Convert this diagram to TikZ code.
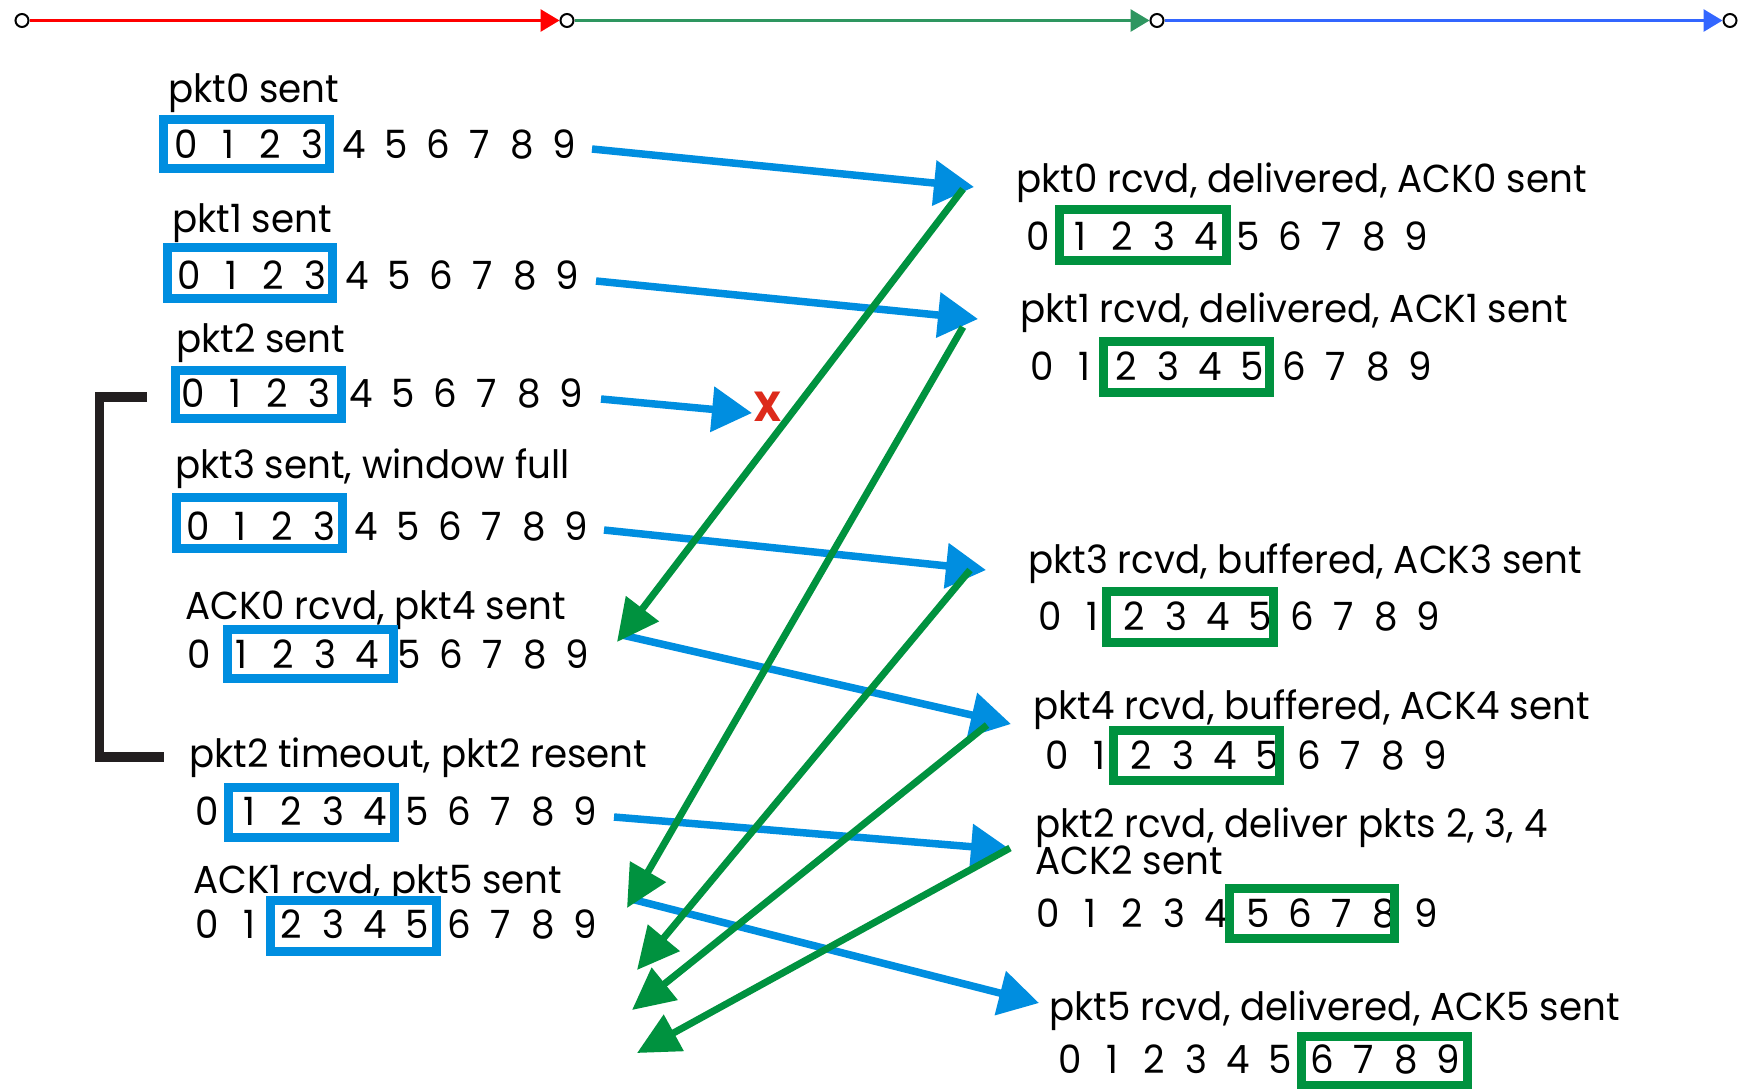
\documentclass[tikz,border=0pt]{standalone}
\usepackage{fontspec}
\setmainfont[FakeStretch=0.955]{Poppins}
\usetikzlibrary{arrows.meta}
\definecolor{cblue}{RGB}{0,142,224}
\definecolor{cgreen}{RGB}{0,146,63}
\definecolor{tred}{RGB}{255,0,0}
\definecolor{tgreen}{RGB}{46,150,96}
\definecolor{tblue}{RGB}{51,102,255}
\definecolor{cxred}{RGB}{221,42,27}
\definecolor{cblack}{RGB}{35,31,32}
\newcommand{\digitrow}[3]{%
  \foreach \i in {0,...,9} {\node[dig] (#1-\i) at ({#2+42*\i},#3) {\i};}}
\newcommand{\winbox}[5]{% style, x1,y1,x2,y2 (outer)
  \draw[#1] ({#2+4.5},{#3+4.5}) rectangle ({#4-4.5},{#5-4.5});}
\tikzset{
  lbl/.style={anchor=base west, inner sep=0pt},
  dig/.style={anchor=base, inner sep=0pt},
  bbox/.style={draw=cblue, line width=9pt, line join=miter},
  gbox/.style={draw=cgreen, line width=9pt, line join=miter},
  barrow/.style={draw=cblue, line width=7.5pt, -{Triangle[length=40pt,width=44pt]}},
  garrow/.style={draw=cgreen, line width=7pt, -{Triangle[length=42pt,width=40pt]}},
  tnode/.style={circle, draw=black, fill=white, line width=2pt, minimum size=13pt, inner sep=0pt},
  tline/.style={line width=3pt, -{Triangle[length=19pt,width=22pt]}},
}
\begin{document}
\begin{tikzpicture}[x=1pt,y=-1pt, font=\fontsize{39}{44}\selectfont]
\useasboundingbox (0,0) rectangle (1742,1088);
\fill[white] (0,0) rectangle (1742,1088);

% top timeline
\node[tnode] (t0) at (22,20.5) {};
\node[tnode] (t1) at (567,20.5) {};
\node[tnode] (t2) at (1157,20.5) {};
\node[tnode] (t3) at (1730,20.5) {};
\draw[tline, draw=tred, fill=tred] (t0) -- (t1);
\draw[tline, draw=tgreen, fill=tgreen] (t1) -- (t2);
\draw[tline, draw=tblue, fill=tblue] (t2) -- (t3);

% bracket
\draw[draw=cblack, line width=9.5pt, line join=miter] (147,397) -- (99.5,397) -- (99.5,757) -- (164,757);

% sender side
\node[lbl] (L1) at (168,102) {pkt0 sent};
\digitrow{D1}{186}{158}
\winbox{bbox}{159}{115}{334}{173}
\node[lbl] (L2) at (172,232) {pkt1 sent};
\digitrow{D2}{189}{289}
\winbox{bbox}{163}{243}{337}{303}
\node[lbl] (L3) at (176,352) {pkt2 sent};
\digitrow{D3}{193}{407}
\winbox{bbox}{171}{366}{346}{423}
\node[lbl] (L4) at (175,478) {pkt3 sent, window full};
\digitrow{D4}{198}{540}
\winbox{bbox}{172}{493}{347}{553}
\node[lbl] (L5) at (185,619) {ACK0 rcvd, pkt4 sent};
\digitrow{D5}{199}{668}
\winbox{bbox}{223}{625}{398}{683}
\node[lbl] (L6) at (189,767) {pkt2 timeout, pkt2 resent};
\digitrow{D6}{207}{825}
\winbox{bbox}{224}{783}{399}{842}
\node[lbl] (L7) at (193,893) {ACK1 rcvd, pkt5 sent};
\digitrow{D7}{207}{938}
\winbox{bbox}{266}{896}{441}{956}

% receiver side
\node[lbl] (R1) at (1016,192) {pkt0 rcvd, delivered, ACK0 sent};
\digitrow{E1}{1038}{250}
\winbox{gbox}{1055}{205}{1231}{265}
\node[lbl] (R2) at (1020,322) {pkt1 rcvd, delivered, ACK1 sent};
\digitrow{E2}{1042}{380}
\winbox{gbox}{1099}{337}{1274}{397}
\node[lbl] (R3) at (1028,573) {pkt3 rcvd, buffered, ACK3 sent};
\digitrow{E3}{1050}{630}
\winbox{gbox}{1102}{587}{1278}{647}
\node[lbl] (R4) at (1033,719) {pkt4 rcvd, buffered, ACK4 sent};
\digitrow{E4}{1057}{769}
\winbox{gbox}{1109}{726}{1284}{785}
\node[lbl] (R5) at (1035,837) {pkt2 rcvd, deliver pkts 2, 3, 4};
\node[lbl] (R5b) at (1035,874) {ACK2 sent};
\digitrow{E5}{1048}{927}
\winbox{gbox}{1225}{884}{1399}{943}
\node[lbl] (R6) at (1049,1020) {pkt5 rcvd, delivered, ACK5 sent};
\digitrow{E6}{1070}{1073}
\winbox{gbox}{1297}{1032}{1472}{1090}

% connector end points
\coordinate (p0s) at (592,149);  \coordinate (p0e) at (974,187);
\coordinate (p1s) at (596,281);  \coordinate (p1e) at (978,319);
\coordinate (p2s) at (601,399);  \coordinate (p2e) at (752,413);
\coordinate (p3s) at (604,530);  \coordinate (p3e) at (986,570);
\coordinate (p4s) at (622,635);  \coordinate (p4e) at (1011,724);
\coordinate (p2rs) at (614,817); \coordinate (p2re) at (1011,850);
\coordinate (p5s) at (631,899);  \coordinate (p5e) at (1039,1003);
\coordinate (a0s) at (963,189);  \coordinate (a0e) at (617,642);
\coordinate (a1s) at (963,327);  \coordinate (a1e) at (627,908);
\coordinate (a3s) at (970,570);  \coordinate (a3e) at (637,970);
\coordinate (a4s) at (987,725);  \coordinate (a4e) at (632,1010);
\coordinate (a2s) at (1010,848); \coordinate (a2e) at (637,1053);

% data packets
\draw[barrow] (p0s) -- (p0e);
\draw[barrow] (p1s) -- (p1e);
\draw[barrow] (p2s) -- (p2e);
\draw[barrow] (p3s) -- (p3e);
\draw[barrow] (p4s) -- (p4e);
\draw[barrow] (p2rs) -- (p2re);
\draw[barrow] (p5s) -- (p5e);
% acks
\draw[garrow] (a0s) -- (a0e);
\draw[garrow] (a1s) -- (a1e);
\draw[garrow] (a3s) -- (a3e);
\draw[garrow] (a4s) -- (a4e);
\draw[garrow] (a2s) -- (a2e);

% loss
\node[text=cxred, font=\fontsize{42}{42}\selectfont\bfseries, inner sep=0pt] (lost) at (768,407) {X};
\end{tikzpicture}
\end{document}
